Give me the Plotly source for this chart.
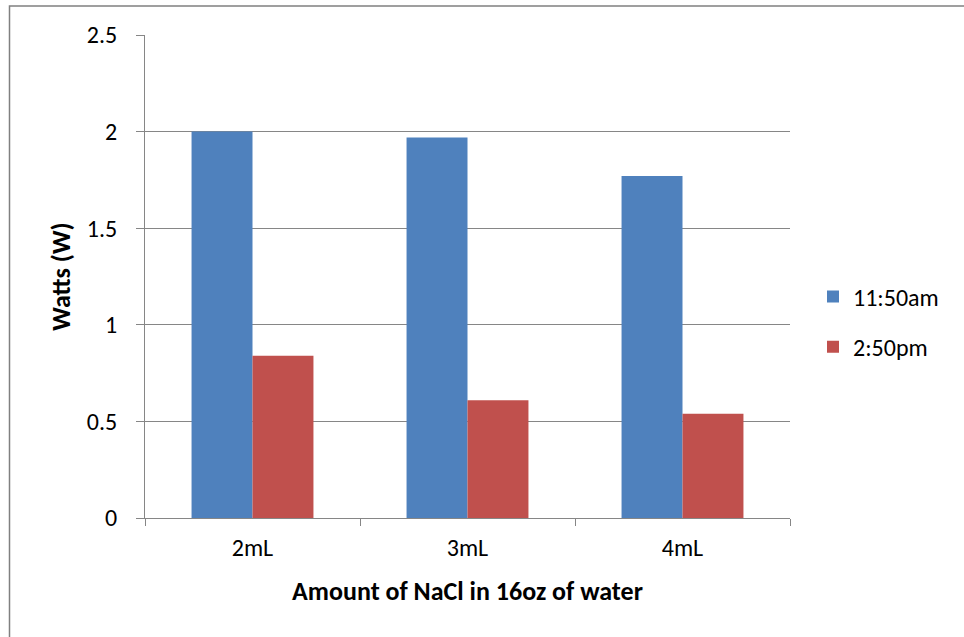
import plotly.graph_objects as go

# Power readings (watts) for each salt amount at two times of day
categories = ["2mL", "3mL", "4mL"]
morning_watts = [2.0, 1.97, 1.77]
afternoon_watts = [0.84, 0.61, 0.54]
series_names = ["11:50am", "2:50pm"]
y_ticks = [0, 0.5, 1, 1.5, 2, 2.5]

W, H = 964, 637
L, R, T, B = 145, 174, 35, 119
pw, ph = W - L - R, H - T - B

FONT = "Calibri, Carlito, Lato, sans-serif"
GRID = "#868686"
TICK_SIZE = 24
TITLE_SIZE = 26

fig = go.Figure()
fig.add_trace(go.Bar(x=categories, y=morning_watts, name=series_names[0],
                     marker=dict(color="#4F81BD", line=dict(width=0)),
                     legendgroup="a"))
fig.add_trace(go.Bar(x=categories, y=afternoon_watts, name=series_names[1],
                     marker=dict(color="#C0504D", line=dict(width=0)),
                     legendgroup="b"))

# thin frame around the whole chart area
fig.add_shape(type="rect", xref="paper", yref="paper",
              x0=(9.5 - L) / pw, x1=(W + 20 - L) / pw,
              y0=-(B + 20) / ph, y1=(H - 6 - B) / ph,
              line=dict(color="#808080", width=1.5), fillcolor="rgba(0,0,0,0)",
              layer="below")

fig.update_layout(
    width=W, height=H,
    margin=dict(l=L, r=R, t=T, b=B),
    paper_bgcolor="white", plot_bgcolor="white",
    barmode="group", bargap=0.433, bargroupgap=0,
    font=dict(family=FONT, size=TICK_SIZE, color="black"),
    showlegend=True,
    legend=dict(x=(813 - L) / pw, xanchor="left",
                y=(518 - 322) / ph, yanchor="middle",
                traceorder="grouped", tracegroupgap=16,
                font=dict(family=FONT, size=TICK_SIZE), bgcolor="rgba(0,0,0,0)"),
    xaxis=dict(
        type="category", tickson="boundaries",
        ticks="outside", ticklen=7, tickcolor=GRID, tickwidth=1,
        showline=True, linecolor=GRID, linewidth=1,
        showgrid=False, zeroline=False, ticklabelstandoff=8,
        tickfont=dict(family=FONT, size=TICK_SIZE),
        title=dict(text="<b>Amount of NaCl in 16oz of water</b>",
                   font=dict(family=FONT, size=TITLE_SIZE), standoff=21),
    ),
    yaxis=dict(
        range=[0, 2.5], tickvals=y_ticks,
        ticktext=[f"{v:g}" for v in y_ticks],
        ticks="outside", ticklen=8, tickcolor=GRID, tickwidth=1,
        showline=True, linecolor=GRID, linewidth=1,
        showgrid=True, gridcolor=GRID, gridwidth=1,
        zeroline=False, ticklabelstandoff=14,
        tickfont=dict(family=FONT, size=TICK_SIZE),
        title=dict(text="<b>Watts (W)</b>",
                   font=dict(family=FONT, size=TITLE_SIZE), standoff=8),
    ),
)

fig.write_html("out.html")
